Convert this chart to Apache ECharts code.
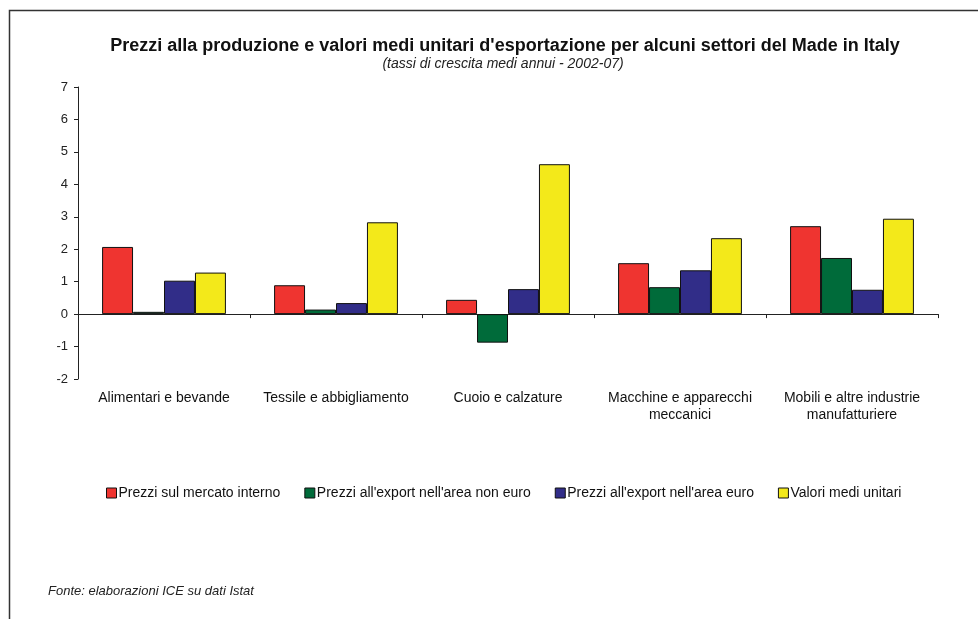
<!DOCTYPE html>
<html>
<head>
<meta charset="utf-8">
<script src="https://cdn.jsdelivr.net/npm/echarts@6/dist/echarts.min.js"></script>
<style>
  html, body { margin: 0; padding: 0; background: #fff; }
  #chart { width: 978px; height: 619px; }
</style>
</head>
<body>
<div id="chart"></div>
<script>
// settori
var categories = [
  'Alimentari e bevande',
  'Tessile e abbigliamento',
  'Cuoio e calzature',
  'Macchine e apparecchi\nmeccanici',
  'Mobili e altre industrie\nmanufatturiere'
];
// tassi di crescita medi annui 2002-07
var mercatoInterno = [2.07, 0.89, 0.44, 1.57, 2.71];
var exportNonEuro = [0.07, 0.14, -0.88, 0.83, 1.73];
var exportEuro = [1.03, 0.34, 0.77, 1.35, 0.75];
var valoriMedi = [1.28, 2.83, 4.62, 2.34, 2.94];

var seriesNames = [
  'Prezzi sul mercato interno',
  "Prezzi all'export nell'area non euro",
  "Prezzi all'export nell'area euro",
  'Valori medi unitari'
];
var colors = ['#EF3430', '#006B3A', '#312D88', '#F3E91A'];

var font = 'Arial, "Liberation Sans", sans-serif';
var chart = echarts.init(document.getElementById('chart'), null, { renderer: 'canvas' });

function makeSeries(name, data, i) {
  return {
    name: name,
    type: 'bar',
    data: data,
    barGap: '0%',
    barCategoryGap: '28%',
    itemStyle: { color: colors[i], borderColor: '#111', borderWidth: 1 },
    emphasis: { disabled: true }
  };
}

var option = {
  animation: false,
  textStyle: { fontFamily: font },
  title: [
    {
      text: "Prezzi alla produzione e valori medi unitari d'esportazione per alcuni settori del Made in Italy",
      left: 505, top: 37, textAlign: 'center', padding: 0,
      textStyle: { fontSize: 18, fontWeight: 'bold', color: '#111', fontFamily: font }
    },
    {
      text: '(tassi di crescita medi annui - 2002-07)',
      left: 503, top: 57, textAlign: 'center', padding: 0,
      textStyle: { fontSize: 14, fontStyle: 'italic', fontWeight: 'normal', color: '#222', fontFamily: font }
    },
    {
      text: 'Fonte: elaborazioni ICE su dati Istat',
      left: 48, top: 585, padding: 0,
      textStyle: { fontSize: 13, fontStyle: 'italic', fontWeight: 'normal', color: '#222', fontFamily: font }
    }
  ],
  legend: {
    data: seriesNames,
    left: 106, top: 486, padding: 0,
    itemWidth: 10, itemHeight: 10, itemGap: 24,
    icon: 'rect',
    itemStyle: { borderColor: '#111', borderWidth: 1 },
    textStyle: { fontSize: 14, color: '#111', padding: [0, 0, 0, -3], fontFamily: font }
  },
  grid: { left: 78, right: 40, top: 87, bottom: 240, containLabel: false },
  xAxis: {
    type: 'category',
    data: categories,
    axisLine: { onZero: true, lineStyle: { color: '#222', width: 1 } },
    axisTick: { show: true, length: 4, lineStyle: { color: '#222' } },
    axisLabel: {
      interval: 0, margin: 11, fontSize: 14, color: '#111', lineHeight: 17,
      fontFamily: font
    }
  },
  yAxis: {
    type: 'value',
    min: -2, max: 7, interval: 1,
    splitLine: { show: false },
    axisLine: { show: true, lineStyle: { color: '#222', width: 1 } },
    axisTick: { show: true, inside: false, length: 4, lineStyle: { color: '#222' } },
    axisLabel: { fontSize: 13, color: '#222', margin: 10, fontFamily: font }
  },
  graphic: [
    {
      type: 'polyline',
      shape: { points: [[9.5, 619], [9.5, 10.5], [978, 10.5]] },
      style: { stroke: '#333', lineWidth: 1.5, fill: null }
    }
  ],
  series: [
    makeSeries(seriesNames[0], mercatoInterno, 0),
    makeSeries(seriesNames[1], exportNonEuro, 1),
    makeSeries(seriesNames[2], exportEuro, 2),
    makeSeries(seriesNames[3], valoriMedi, 3)
  ]
};
chart.setOption(option);
</script>
</body>
</html>
